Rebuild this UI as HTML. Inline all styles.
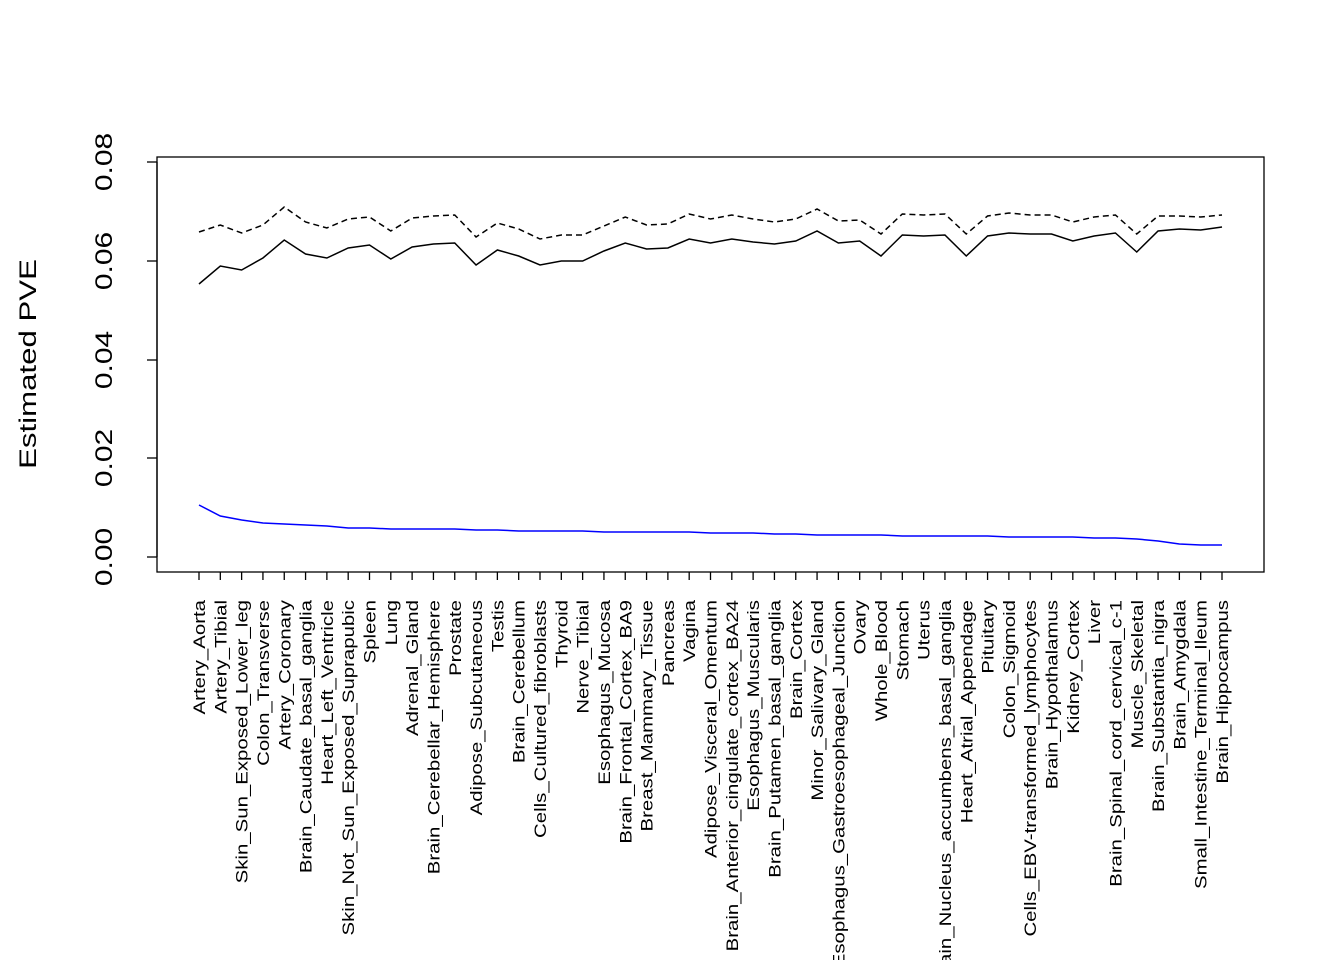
<!DOCTYPE html>
<html><head><meta charset="utf-8"><style>body{margin:0;background:#fff}svg{display:block}</style></head>
<body>
<svg id="s" width="1344" height="960" xmlns="http://www.w3.org/2000/svg" font-family="Liberation Sans, Arial, sans-serif">
<rect x="157" y="157" width="1107" height="415" fill="none" stroke="#000" stroke-width="1.3"/>
<g stroke="#000" stroke-width="1.3">
<line x1="157" y1="162" x2="157" y2="557"/>
<line x1="157" y1="557" x2="147" y2="557"/><line x1="157" y1="458" x2="147" y2="458"/><line x1="157" y1="360" x2="147" y2="360"/><line x1="157" y1="261" x2="147" y2="261"/><line x1="157" y1="162" x2="147" y2="162"/>
</g>
<g font-size="24" text-anchor="middle">
<text transform="translate(112,557) rotate(-90) scale(1.25,1)">0.00</text>
<text transform="translate(112,458) rotate(-90) scale(1.25,1)">0.02</text>
<text transform="translate(112,360) rotate(-90) scale(1.25,1)">0.04</text>
<text transform="translate(112,261) rotate(-90) scale(1.25,1)">0.06</text>
<text transform="translate(112,162) rotate(-90) scale(1.25,1)">0.08</text>
<text transform="translate(36,364) rotate(-90) scale(1.3,1)">Estimated PVE</text>
</g>
<g id="ticks" stroke="#000" stroke-width="1.3"></g>
<g id="labs" font-size="17" text-anchor="end"></g>
<polyline id="sol" fill="none" stroke="#000" stroke-width="1.5"/>
<polyline id="das" fill="none" stroke="#000" stroke-width="1.5" stroke-dasharray="6,4"/>
<polyline id="blu" fill="none" stroke="#00f" stroke-width="1.5"/>
</svg>
<script>
var names="Artery_Aorta,Artery_Tibial,Skin_Sun_Exposed_Lower_leg,Colon_Transverse,Artery_Coronary,Brain_Caudate_basal_ganglia,Heart_Left_Ventricle,Skin_Not_Sun_Exposed_Suprapubic,Spleen,Lung,Adrenal_Gland,Brain_Cerebellar_Hemisphere,Prostate,Adipose_Subcutaneous,Testis,Brain_Cerebellum,Cells_Cultured_fibroblasts,Thyroid,Nerve_Tibial,Esophagus_Mucosa,Brain_Frontal_Cortex_BA9,Breast_Mammary_Tissue,Pancreas,Vagina,Adipose_Visceral_Omentum,Brain_Anterior_cingulate_cortex_BA24,Esophagus_Muscularis,Brain_Putamen_basal_ganglia,Brain_Cortex,Minor_Salivary_Gland,Esophagus_Gastroesophageal_Junction,Ovary,Whole_Blood,Stomach,Uterus,Brain_Nucleus_accumbens_basal_ganglia,Heart_Atrial_Appendage,Pituitary,Colon_Sigmoid,Cells_EBV-transformed_lymphocytes,Brain_Hypothalamus,Kidney_Cortex,Liver,Brain_Spinal_cord_cervical_c-1,Muscle_Skeletal,Brain_Substantia_nigra,Brain_Amygdala,Small_Intestine_Terminal_Ileum,Brain_Hippocampus".split(",");
var sol=[284,266,270,258,240,254,258,248,245,259,247,244,243,265,250,256,265,261,261,251,243,249,248,239,243,239,242,244,241,231,243,241,256,235,236,235,256,236,233,234,234,241,236,233,252,231,229,230,227];
var das=[232,225,233,225,207,222,228,219,217,231,218,216,215,237,223,229,239,235,235,226,217,225,224,214,219,215,219,222,219,209,221,220,234,214,215,214,234,216,213,215,215,222,217,215,234,216,216,217,215];
var blu=[505,516,520,523,524,525,526,528,528,529,529,529,529,530,530,531,531,531,531,532,532,532,532,532,533,533,533,534,534,535,535,535,535,536,536,536,536,536,537,537,537,537,538,538,539,541,544,545,545];
var NS="http://www.w3.org/2000/svg",t=document.getElementById("ticks"),l=document.getElementById("labs");
var ps=[],pd=[],pb=[];
for(var i=0;i<49;i++){var x=199+i*(1023/48);
var ln=document.createElementNS(NS,"line");ln.setAttribute("x1",x);ln.setAttribute("x2",x);ln.setAttribute("y1",572);ln.setAttribute("y2",580);t.appendChild(ln);
var tx=document.createElementNS(NS,"text");tx.setAttribute("transform","translate("+(x+6)+",600) rotate(-90) scale(1.2,1)");tx.textContent=names[i];l.appendChild(tx);
ps.push(x+","+sol[i]);pd.push(x+","+das[i]);pb.push(x+","+blu[i]);}
document.getElementById("sol").setAttribute("points",ps.join(" "));
document.getElementById("das").setAttribute("points",pd.join(" "));
document.getElementById("blu").setAttribute("points",pb.join(" "));
</script>
</body></html>
